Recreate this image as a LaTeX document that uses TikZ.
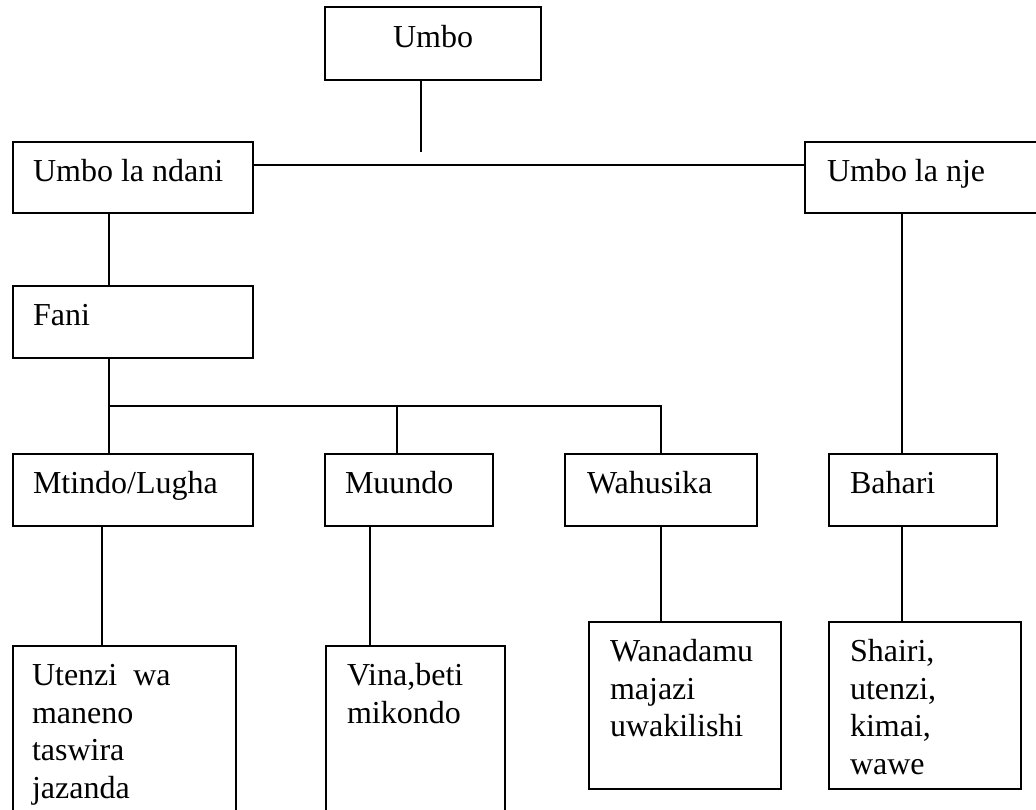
\documentclass[tikz,border=0pt]{standalone}
\usepackage{fontspec}
\setmainfont{Liberation Serif}
\newcommand\boxtext[4]{\vbox to #2pt{\vskip 39.5pt\hbox to #1pt{\hskip #3pt\smash{\vtop{\baselineskip=37.5pt\halign{##\hfil\cr #4\crcr}}}\hss}\vss}}
\newcommand\boxcenter[3]{\vbox to #2pt{\vskip 41pt\hbox to #1pt{\hss\smash{#3}\hss}\vss}}
\begin{document}
\begin{tikzpicture}[x=1pt,y=-1pt,
  box/.style={draw, line width=2pt, inner sep=0pt, outer sep=0pt, anchor=north west, shape=rectangle,
    font=\fontsize{32pt}{37.5pt}\selectfont},
  conn/.style={line width=2pt}]
\useasboundingbox (0,0) rectangle (1036,810);
\clip (0,0) rectangle (1036,810);
\fill[white] (0,0) rectangle (1036,810);

\node[box] (umbo)     at (325,7)   {\boxcenter{216}{73}{Umbo}};
\node[box] (ndani)    at (13,142)  {\boxtext{240}{71}{20}{Umbo la ndani}};
\node[box] (nje)      at (805,142) {\boxtext{245}{71}{22}{Umbo la nje}};
\node[box] (fani)     at (13,286)  {\boxtext{240}{72}{20}{Fani}};
\node[box] (mtindo)   at (13,454)  {\boxtext{240}{72}{20}{Mtindo/Lugha}};
\node[box] (muundo)   at (325,454) {\boxtext{168}{72}{20}{Muundo}};
\node[box] (wahusika) at (565,454) {\boxtext{192}{72}{22}{Wahusika}};
\node[box] (bahari)   at (829,454) {\boxtext{168}{72}{21}{Bahari}};
\node[box] (utenzi)   at (13,646)  {\boxtext{223}{180}{19}{Utenzi\ \ wa\cr maneno\cr taswira\cr jazanda}};
\node[box] (vina)     at (326,646) {\boxtext{179}{180}{21}{Vina,beti\cr mikondo}};
\node[box] (wanadamu) at (589,622) {\boxtext{192}{167}{21}{Wanadamu\cr majazi\cr uwakilishi}};
\node[box] (shairi)   at (829,622) {\boxtext{192}{167}{21}{Shairi,\cr utenzi,\cr kimai,\cr wawe}};

\coordinate (ustem) at (421,152);
\coordinate (hline) at (0,165);
\coordinate (lstem) at (109,0);
\coordinate (branch) at (109,406);
\coordinate (mstem) at (397,0);
\coordinate (wstem) at (661,0);
\coordinate (rstem) at (901.5,0);
\coordinate (b1) at (102,0);
\coordinate (b2) at (370,0);

\draw[conn] (ustem |- umbo.south) -- (ustem);
\draw[conn] (ndani.east |- hline) -- (nje.west |- hline);
\draw[conn] (ndani.south -| lstem) -- (fani.north -| lstem);
\draw[conn] (fani.south -| lstem) -- (mtindo.north -| lstem);
\draw[conn] (branch) -- (branch -| wstem) -- (wahusika.north -| wstem);
\draw[conn] (branch -| mstem) -- (muundo.north -| mstem);
\draw[conn] (nje.south -| rstem) -- (bahari.north -| rstem);
\draw[conn] (mtindo.south -| b1) -- (utenzi.north -| b1);
\draw[conn] (muundo.south -| b2) -- (vina.north -| b2);
\draw[conn] (wahusika.south -| wstem) -- (wanadamu.north -| wstem);
\draw[conn] (bahari.south -| rstem) -- (shairi.north -| rstem);
\end{tikzpicture}
\end{document}
